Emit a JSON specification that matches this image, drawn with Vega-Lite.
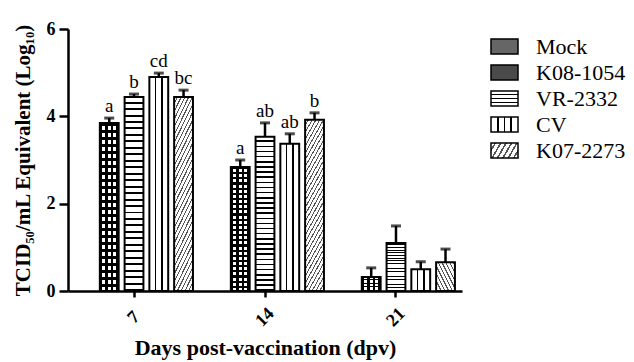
{
  "$schema": "https://vega.github.io/schema/vega-lite/v6.json",
  "autosize": "none",
  "width": 394,
  "height": 262,
  "padding": {"left": 68, "top": 29, "right": 172, "bottom": 71},
  "background": "white",
  "config": {
    "view": {"stroke": null},
    "font": "Liberation Serif",
    "text": {"font": "Liberation Serif"},
    "axis": {
      "domainColor": "black", "domainWidth": 2.5, "tickColor": "black", "tickWidth": 2.5,
      "labelColor": "black", "titleColor": "black", "labelFont": "Liberation Serif", "titleFont": "Liberation Serif",
      "labelFontWeight": "bold", "titleFontWeight": "bold", "grid": false
    },
    "legend": {"labelFont": "Liberation Serif", "labelColor": "black"}
  },
  "data": {"values": [
    {"day": "7", "group": "K08-1054", "value": 3.85, "upper": 3.96, "letter": "a"},
    {"day": "7", "group": "VR-2332", "value": 4.44, "upper": 4.51, "letter": "b"},
    {"day": "7", "group": "CV", "value": 4.9, "upper": 4.99, "letter": "cd"},
    {"day": "7", "group": "K07-2273", "value": 4.44, "upper": 4.6, "letter": "bc"},
    {"day": "14", "group": "K08-1054", "value": 2.84, "upper": 3.0, "letter": "a"},
    {"day": "14", "group": "VR-2332", "value": 3.53, "upper": 3.85, "letter": "ab"},
    {"day": "14", "group": "CV", "value": 3.37, "upper": 3.6, "letter": "ab"},
    {"day": "14", "group": "K07-2273", "value": 3.92, "upper": 4.08, "letter": "b"},
    {"day": "21", "group": "K08-1054", "value": 0.32, "upper": 0.53, "letter": ""},
    {"day": "21", "group": "VR-2332", "value": 1.1, "upper": 1.49, "letter": ""},
    {"day": "21", "group": "CV", "value": 0.5, "upper": 0.67, "letter": ""},
    {"day": "21", "group": "K07-2273", "value": 0.66, "upper": 0.96, "letter": ""}
  ]},
  "encoding": {
    "x": {
      "field": "day", "type": "nominal", "sort": ["7", "14", "21"],
      "scale": {"paddingInner": 0.1, "paddingOuter": 0.054},
      "axis": {
        "title": "Days post-vaccination (dpv)", "titleFontSize": 22, "titlePadding": 8,
        "labelFontSize": 18, "labelAngle": -45, "labelAlign": "center", "labelBaseline": "middle",
        "labelPadding": 20, "tickSize": 6
      }
    },
    "xOffset": {
      "field": "group", "type": "nominal",
      "scale": {"domain": ["Mock", "K08-1054", "VR-2332", "CV", "K07-2273"], "paddingInner": 0.24, "paddingOuter": 0}
    },
    "y": {
      "field": "value", "type": "quantitative",
      "scale": {"domain": [0, 6], "nice": false},
      "axis": {
        "title": "TCID₅₀/mL Equivalent (Log₁₀)", "titleFontSize": 21, "titlePadding": 13,
        "values": [0, 2, 4, 6], "labelFontSize": 18, "tickSize": 9, "labelPadding": 4
      }
    }
  },
  "layer": [
    {
      "mark": {"type": "bar", "opacity": 0, "stroke": "black", "strokeWidth": 1.5},
      "encoding": {
        "color": {
          "field": "group", "type": "nominal",
          "scale": {
            "domain": ["Mock", "K08-1054", "VR-2332", "CV", "K07-2273"],
            "range": [
              "#666666",
              "#4a4a4a",
              {"expr": "{gradient: 'linear', x1: 0, y1: 0, x2: 0, y2: 1, stops: [{offset: 0, color: 'white'}, {offset: 0.2, color: 'white'}, {offset: 0.2, color: 'black'}, {offset: 0.3, color: 'black'}, {offset: 0.3, color: 'white'}, {offset: 0.45, color: 'white'}, {offset: 0.45, color: 'black'}, {offset: 0.55, color: 'black'}, {offset: 0.55, color: 'white'}, {offset: 0.7, color: 'white'}, {offset: 0.7, color: 'black'}, {offset: 0.8, color: 'black'}, {offset: 0.8, color: 'white'}, {offset: 1, color: 'white'}]}"},
              {"expr": "{gradient: 'linear', x1: 0, y1: 0, x2: 1, y2: 0, stops: [{offset: 0, color: 'white'}, {offset: 0.22, color: 'white'}, {offset: 0.22, color: 'black'}, {offset: 0.28, color: 'black'}, {offset: 0.28, color: 'white'}, {offset: 0.47, color: 'white'}, {offset: 0.47, color: 'black'}, {offset: 0.53, color: 'black'}, {offset: 0.53, color: 'white'}, {offset: 0.72, color: 'white'}, {offset: 0.72, color: 'black'}, {offset: 0.78, color: 'black'}, {offset: 0.78, color: 'white'}, {offset: 1, color: 'white'}]}"},
              {"expr": "{gradient: 'linear', x1: 0, y1: 0, x2: 1.2, y2: 0.4, stops: [{offset: 0, color: 'white'}, {offset: 0.1, color: 'white'}, {offset: 0.1, color: '#555555'}, {offset: 0.15, color: '#555555'}, {offset: 0.15, color: 'white'}, {offset: 0.25, color: 'white'}, {offset: 0.25, color: '#555555'}, {offset: 0.3, color: '#555555'}, {offset: 0.3, color: 'white'}, {offset: 0.4, color: 'white'}, {offset: 0.4, color: '#555555'}, {offset: 0.45, color: '#555555'}, {offset: 0.45, color: 'white'}, {offset: 0.55, color: 'white'}, {offset: 0.55, color: '#555555'}, {offset: 0.6, color: '#555555'}, {offset: 0.6, color: 'white'}, {offset: 0.7, color: 'white'}, {offset: 0.7, color: '#555555'}, {offset: 0.75, color: '#555555'}, {offset: 0.75, color: 'white'}, {offset: 0.85, color: 'white'}, {offset: 0.85, color: '#555555'}, {offset: 0.9, color: '#555555'}, {offset: 0.9, color: 'white'}, {offset: 1, color: 'white'}]}"}
            ]
          },
          "legend": {
            "title": null, "orient": "none", "legendX": 422, "legendY": 3,
            "symbolType": "M-1,-0.56H1V0.56H-1Z", "symbolSize": 729, "symbolStrokeColor": "black",
            "symbolStrokeWidth": 1.5, "symbolOpacity": 1, "labelFont": "Liberation Serif", "labelFontSize": 22,
            "labelOffset": 17, "rowPadding": 0
          }
        }
      }
    },
    {
      "transform": [{"filter": "datum.group === 'K08-1054'"}],
      "mark": {"type": "bar",
        "fill": {"gradient": "linear", "x1": 0, "y1": 0, "x2": 1, "y2": 0, "stops": [
          {"offset": 0, "color": "black"}, {"offset": 0.12, "color": "black"}, {"offset": 0.12, "color": "white"}, {"offset": 0.3, "color": "white"},
          {"offset": 0.3, "color": "black"}, {"offset": 0.42, "color": "black"}, {"offset": 0.42, "color": "white"}, {"offset": 0.58, "color": "white"},
          {"offset": 0.58, "color": "black"}, {"offset": 0.7, "color": "black"}, {"offset": 0.7, "color": "white"}, {"offset": 0.88, "color": "white"},
          {"offset": 0.88, "color": "black"}, {"offset": 1, "color": "black"}
        ]}
      }
    },
    {
      "transform": [{"filter": "datum.group === 'K08-1054'"}],
      "mark": {"type": "bar", "stroke": "black", "strokeWidth": 2,
        "fill": {"gradient": "linear", "x1": 0, "y1": 0, "x2": 0, "y2": 1, "stops": [
          {"offset": 0, "color": "black"}, {"offset": 0.016667, "color": "black"}, {"offset": 0.016667, "color": "rgba(0,0,0,0)"}, {"offset": 0.041667, "color": "rgba(0,0,0,0)"},
          {"offset": 0.041667, "color": "black"}, {"offset": 0.058333, "color": "black"}, {"offset": 0.058333, "color": "rgba(0,0,0,0)"}, {"offset": 0.083333, "color": "rgba(0,0,0,0)"},
          {"offset": 0.083333, "color": "black"}, {"offset": 0.1, "color": "black"}, {"offset": 0.1, "color": "rgba(0,0,0,0)"}, {"offset": 0.125, "color": "rgba(0,0,0,0)"},
          {"offset": 0.125, "color": "black"}, {"offset": 0.141667, "color": "black"}, {"offset": 0.141667, "color": "rgba(0,0,0,0)"}, {"offset": 0.166667, "color": "rgba(0,0,0,0)"},
          {"offset": 0.166667, "color": "black"}, {"offset": 0.183333, "color": "black"}, {"offset": 0.183333, "color": "rgba(0,0,0,0)"}, {"offset": 0.208333, "color": "rgba(0,0,0,0)"},
          {"offset": 0.208333, "color": "black"}, {"offset": 0.225, "color": "black"}, {"offset": 0.225, "color": "rgba(0,0,0,0)"}, {"offset": 0.25, "color": "rgba(0,0,0,0)"},
          {"offset": 0.25, "color": "black"}, {"offset": 0.266667, "color": "black"}, {"offset": 0.266667, "color": "rgba(0,0,0,0)"}, {"offset": 0.291667, "color": "rgba(0,0,0,0)"},
          {"offset": 0.291667, "color": "black"}, {"offset": 0.308333, "color": "black"}, {"offset": 0.308333, "color": "rgba(0,0,0,0)"}, {"offset": 0.333333, "color": "rgba(0,0,0,0)"},
          {"offset": 0.333333, "color": "black"}, {"offset": 0.35, "color": "black"}, {"offset": 0.35, "color": "rgba(0,0,0,0)"}, {"offset": 0.375, "color": "rgba(0,0,0,0)"},
          {"offset": 0.375, "color": "black"}, {"offset": 0.391667, "color": "black"}, {"offset": 0.391667, "color": "rgba(0,0,0,0)"}, {"offset": 0.416667, "color": "rgba(0,0,0,0)"},
          {"offset": 0.416667, "color": "black"}, {"offset": 0.433333, "color": "black"}, {"offset": 0.433333, "color": "rgba(0,0,0,0)"}, {"offset": 0.458333, "color": "rgba(0,0,0,0)"},
          {"offset": 0.458333, "color": "black"}, {"offset": 0.475, "color": "black"}, {"offset": 0.475, "color": "rgba(0,0,0,0)"}, {"offset": 0.5, "color": "rgba(0,0,0,0)"},
          {"offset": 0.5, "color": "black"}, {"offset": 0.516667, "color": "black"}, {"offset": 0.516667, "color": "rgba(0,0,0,0)"}, {"offset": 0.541667, "color": "rgba(0,0,0,0)"},
          {"offset": 0.541667, "color": "black"}, {"offset": 0.558333, "color": "black"}, {"offset": 0.558333, "color": "rgba(0,0,0,0)"}, {"offset": 0.583333, "color": "rgba(0,0,0,0)"},
          {"offset": 0.583333, "color": "black"}, {"offset": 0.6, "color": "black"}, {"offset": 0.6, "color": "rgba(0,0,0,0)"}, {"offset": 0.625, "color": "rgba(0,0,0,0)"},
          {"offset": 0.625, "color": "black"}, {"offset": 0.641667, "color": "black"}, {"offset": 0.641667, "color": "rgba(0,0,0,0)"}, {"offset": 0.666667, "color": "rgba(0,0,0,0)"},
          {"offset": 0.666667, "color": "black"}, {"offset": 0.683333, "color": "black"}, {"offset": 0.683333, "color": "rgba(0,0,0,0)"}, {"offset": 0.708333, "color": "rgba(0,0,0,0)"},
          {"offset": 0.708333, "color": "black"}, {"offset": 0.725, "color": "black"}, {"offset": 0.725, "color": "rgba(0,0,0,0)"}, {"offset": 0.75, "color": "rgba(0,0,0,0)"},
          {"offset": 0.75, "color": "black"}, {"offset": 0.766667, "color": "black"}, {"offset": 0.766667, "color": "rgba(0,0,0,0)"}, {"offset": 0.791667, "color": "rgba(0,0,0,0)"},
          {"offset": 0.791667, "color": "black"}, {"offset": 0.808333, "color": "black"}, {"offset": 0.808333, "color": "rgba(0,0,0,0)"}, {"offset": 0.833333, "color": "rgba(0,0,0,0)"},
          {"offset": 0.833333, "color": "black"}, {"offset": 0.85, "color": "black"}, {"offset": 0.85, "color": "rgba(0,0,0,0)"}, {"offset": 0.875, "color": "rgba(0,0,0,0)"},
          {"offset": 0.875, "color": "black"}, {"offset": 0.891667, "color": "black"}, {"offset": 0.891667, "color": "rgba(0,0,0,0)"}, {"offset": 0.916667, "color": "rgba(0,0,0,0)"},
          {"offset": 0.916667, "color": "black"}, {"offset": 0.933333, "color": "black"}, {"offset": 0.933333, "color": "rgba(0,0,0,0)"}, {"offset": 0.958333, "color": "rgba(0,0,0,0)"},
          {"offset": 0.958333, "color": "black"}, {"offset": 0.975, "color": "black"}, {"offset": 0.975, "color": "rgba(0,0,0,0)"}, {"offset": 1, "color": "rgba(0,0,0,0)"}
        ]}
      }
    },
    {
      "transform": [{"filter": "datum.group === 'VR-2332'"}],
      "mark": {"type": "bar", "stroke": "black", "strokeWidth": 2,
        "fill": {"gradient": "linear", "x1": 0, "y1": 0, "x2": 0, "y2": 1, "stops": [
          {"offset": 0, "color": "white"}, {"offset": 0.02333, "color": "white"}, {"offset": 0.02333, "color": "black"}, {"offset": 0.03333, "color": "black"},
          {"offset": 0.03333, "color": "white"}, {"offset": 0.05667, "color": "white"}, {"offset": 0.05667, "color": "black"}, {"offset": 0.06667, "color": "black"},
          {"offset": 0.06667, "color": "white"}, {"offset": 0.09, "color": "white"}, {"offset": 0.09, "color": "black"}, {"offset": 0.1, "color": "black"},
          {"offset": 0.1, "color": "white"}, {"offset": 0.12333, "color": "white"}, {"offset": 0.12333, "color": "black"}, {"offset": 0.13333, "color": "black"},
          {"offset": 0.13333, "color": "white"}, {"offset": 0.15667, "color": "white"}, {"offset": 0.15667, "color": "black"}, {"offset": 0.16667, "color": "black"},
          {"offset": 0.16667, "color": "white"}, {"offset": 0.19, "color": "white"}, {"offset": 0.19, "color": "black"}, {"offset": 0.2, "color": "black"},
          {"offset": 0.2, "color": "white"}, {"offset": 0.22333, "color": "white"}, {"offset": 0.22333, "color": "black"}, {"offset": 0.23333, "color": "black"},
          {"offset": 0.23333, "color": "white"}, {"offset": 0.25667, "color": "white"}, {"offset": 0.25667, "color": "black"}, {"offset": 0.26667, "color": "black"},
          {"offset": 0.26667, "color": "white"}, {"offset": 0.29, "color": "white"}, {"offset": 0.29, "color": "black"}, {"offset": 0.3, "color": "black"},
          {"offset": 0.3, "color": "white"}, {"offset": 0.32333, "color": "white"}, {"offset": 0.32333, "color": "black"}, {"offset": 0.33333, "color": "black"},
          {"offset": 0.33333, "color": "white"}, {"offset": 0.35667, "color": "white"}, {"offset": 0.35667, "color": "black"}, {"offset": 0.36667, "color": "black"},
          {"offset": 0.36667, "color": "white"}, {"offset": 0.39, "color": "white"}, {"offset": 0.39, "color": "black"}, {"offset": 0.4, "color": "black"},
          {"offset": 0.4, "color": "white"}, {"offset": 0.42333, "color": "white"}, {"offset": 0.42333, "color": "black"}, {"offset": 0.43333, "color": "black"},
          {"offset": 0.43333, "color": "white"}, {"offset": 0.45667, "color": "white"}, {"offset": 0.45667, "color": "black"}, {"offset": 0.46667, "color": "black"},
          {"offset": 0.46667, "color": "white"}, {"offset": 0.49, "color": "white"}, {"offset": 0.49, "color": "black"}, {"offset": 0.5, "color": "black"},
          {"offset": 0.5, "color": "white"}, {"offset": 0.52333, "color": "white"}, {"offset": 0.52333, "color": "black"}, {"offset": 0.53333, "color": "black"},
          {"offset": 0.53333, "color": "white"}, {"offset": 0.55667, "color": "white"}, {"offset": 0.55667, "color": "black"}, {"offset": 0.56667, "color": "black"},
          {"offset": 0.56667, "color": "white"}, {"offset": 0.59, "color": "white"}, {"offset": 0.59, "color": "black"}, {"offset": 0.6, "color": "black"},
          {"offset": 0.6, "color": "white"}, {"offset": 0.62333, "color": "white"}, {"offset": 0.62333, "color": "black"}, {"offset": 0.63333, "color": "black"},
          {"offset": 0.63333, "color": "white"}, {"offset": 0.65667, "color": "white"}, {"offset": 0.65667, "color": "black"}, {"offset": 0.66667, "color": "black"},
          {"offset": 0.66667, "color": "white"}, {"offset": 0.69, "color": "white"}, {"offset": 0.69, "color": "black"}, {"offset": 0.7, "color": "black"},
          {"offset": 0.7, "color": "white"}, {"offset": 0.72333, "color": "white"}, {"offset": 0.72333, "color": "black"}, {"offset": 0.73333, "color": "black"},
          {"offset": 0.73333, "color": "white"}, {"offset": 0.75667, "color": "white"}, {"offset": 0.75667, "color": "black"}, {"offset": 0.76667, "color": "black"},
          {"offset": 0.76667, "color": "white"}, {"offset": 0.79, "color": "white"}, {"offset": 0.79, "color": "black"}, {"offset": 0.8, "color": "black"},
          {"offset": 0.8, "color": "white"}, {"offset": 0.82333, "color": "white"}, {"offset": 0.82333, "color": "black"}, {"offset": 0.83333, "color": "black"},
          {"offset": 0.83333, "color": "white"}, {"offset": 0.85667, "color": "white"}, {"offset": 0.85667, "color": "black"}, {"offset": 0.86667, "color": "black"},
          {"offset": 0.86667, "color": "white"}, {"offset": 0.89, "color": "white"}, {"offset": 0.89, "color": "black"}, {"offset": 0.9, "color": "black"},
          {"offset": 0.9, "color": "white"}, {"offset": 0.92333, "color": "white"}, {"offset": 0.92333, "color": "black"}, {"offset": 0.93333, "color": "black"},
          {"offset": 0.93333, "color": "white"}, {"offset": 0.95667, "color": "white"}, {"offset": 0.95667, "color": "black"}, {"offset": 0.96667, "color": "black"},
          {"offset": 0.96667, "color": "white"}, {"offset": 0.99, "color": "white"}, {"offset": 0.99, "color": "black"}, {"offset": 1, "color": "black"}
        ]}
      }
    },
    {
      "transform": [{"filter": "datum.group === 'CV'"}],
      "mark": {"type": "bar", "stroke": "black", "strokeWidth": 2,
        "fill": {"gradient": "linear", "x1": 0, "y1": 0, "x2": 1, "y2": 0, "stops": [
          {"offset": 0, "color": "white"}, {"offset": 0.3, "color": "white"}, {"offset": 0.3, "color": "black"}, {"offset": 0.37, "color": "black"},
          {"offset": 0.37, "color": "white"}, {"offset": 0.63, "color": "white"}, {"offset": 0.63, "color": "black"}, {"offset": 0.7, "color": "black"},
          {"offset": 0.7, "color": "white"}, {"offset": 1, "color": "white"}
        ]}
      }
    },
    {
      "transform": [{"filter": "datum.group === 'K07-2273'"}],
      "mark": {"type": "bar", "stroke": "black", "strokeWidth": 2,
        "fill": {"gradient": "linear", "x1": 0, "y1": 0, "x2": 0.23, "y2": 1.154, "stops": [
          {"offset": 0, "color": "white"}, {"offset": 0.02333, "color": "white"}, {"offset": 0.02333, "color": "#555555"}, {"offset": 0.03333, "color": "#555555"},
          {"offset": 0.03333, "color": "white"}, {"offset": 0.05667, "color": "white"}, {"offset": 0.05667, "color": "#555555"}, {"offset": 0.06667, "color": "#555555"},
          {"offset": 0.06667, "color": "white"}, {"offset": 0.09, "color": "white"}, {"offset": 0.09, "color": "#555555"}, {"offset": 0.1, "color": "#555555"},
          {"offset": 0.1, "color": "white"}, {"offset": 0.12333, "color": "white"}, {"offset": 0.12333, "color": "#555555"}, {"offset": 0.13333, "color": "#555555"},
          {"offset": 0.13333, "color": "white"}, {"offset": 0.15667, "color": "white"}, {"offset": 0.15667, "color": "#555555"}, {"offset": 0.16667, "color": "#555555"},
          {"offset": 0.16667, "color": "white"}, {"offset": 0.19, "color": "white"}, {"offset": 0.19, "color": "#555555"}, {"offset": 0.2, "color": "#555555"},
          {"offset": 0.2, "color": "white"}, {"offset": 0.22333, "color": "white"}, {"offset": 0.22333, "color": "#555555"}, {"offset": 0.23333, "color": "#555555"},
          {"offset": 0.23333, "color": "white"}, {"offset": 0.25667, "color": "white"}, {"offset": 0.25667, "color": "#555555"}, {"offset": 0.26667, "color": "#555555"},
          {"offset": 0.26667, "color": "white"}, {"offset": 0.29, "color": "white"}, {"offset": 0.29, "color": "#555555"}, {"offset": 0.3, "color": "#555555"},
          {"offset": 0.3, "color": "white"}, {"offset": 0.32333, "color": "white"}, {"offset": 0.32333, "color": "#555555"}, {"offset": 0.33333, "color": "#555555"},
          {"offset": 0.33333, "color": "white"}, {"offset": 0.35667, "color": "white"}, {"offset": 0.35667, "color": "#555555"}, {"offset": 0.36667, "color": "#555555"},
          {"offset": 0.36667, "color": "white"}, {"offset": 0.39, "color": "white"}, {"offset": 0.39, "color": "#555555"}, {"offset": 0.4, "color": "#555555"},
          {"offset": 0.4, "color": "white"}, {"offset": 0.42333, "color": "white"}, {"offset": 0.42333, "color": "#555555"}, {"offset": 0.43333, "color": "#555555"},
          {"offset": 0.43333, "color": "white"}, {"offset": 0.45667, "color": "white"}, {"offset": 0.45667, "color": "#555555"}, {"offset": 0.46667, "color": "#555555"},
          {"offset": 0.46667, "color": "white"}, {"offset": 0.49, "color": "white"}, {"offset": 0.49, "color": "#555555"}, {"offset": 0.5, "color": "#555555"},
          {"offset": 0.5, "color": "white"}, {"offset": 0.52333, "color": "white"}, {"offset": 0.52333, "color": "#555555"}, {"offset": 0.53333, "color": "#555555"},
          {"offset": 0.53333, "color": "white"}, {"offset": 0.55667, "color": "white"}, {"offset": 0.55667, "color": "#555555"}, {"offset": 0.56667, "color": "#555555"},
          {"offset": 0.56667, "color": "white"}, {"offset": 0.59, "color": "white"}, {"offset": 0.59, "color": "#555555"}, {"offset": 0.6, "color": "#555555"},
          {"offset": 0.6, "color": "white"}, {"offset": 0.62333, "color": "white"}, {"offset": 0.62333, "color": "#555555"}, {"offset": 0.63333, "color": "#555555"},
          {"offset": 0.63333, "color": "white"}, {"offset": 0.65667, "color": "white"}, {"offset": 0.65667, "color": "#555555"}, {"offset": 0.66667, "color": "#555555"},
          {"offset": 0.66667, "color": "white"}, {"offset": 0.69, "color": "white"}, {"offset": 0.69, "color": "#555555"}, {"offset": 0.7, "color": "#555555"},
          {"offset": 0.7, "color": "white"}, {"offset": 0.72333, "color": "white"}, {"offset": 0.72333, "color": "#555555"}, {"offset": 0.73333, "color": "#555555"},
          {"offset": 0.73333, "color": "white"}, {"offset": 0.75667, "color": "white"}, {"offset": 0.75667, "color": "#555555"}, {"offset": 0.76667, "color": "#555555"},
          {"offset": 0.76667, "color": "white"}, {"offset": 0.79, "color": "white"}, {"offset": 0.79, "color": "#555555"}, {"offset": 0.8, "color": "#555555"},
          {"offset": 0.8, "color": "white"}, {"offset": 0.82333, "color": "white"}, {"offset": 0.82333, "color": "#555555"}, {"offset": 0.83333, "color": "#555555"},
          {"offset": 0.83333, "color": "white"}, {"offset": 0.85667, "color": "white"}, {"offset": 0.85667, "color": "#555555"}, {"offset": 0.86667, "color": "#555555"},
          {"offset": 0.86667, "color": "white"}, {"offset": 0.89, "color": "white"}, {"offset": 0.89, "color": "#555555"}, {"offset": 0.9, "color": "#555555"},
          {"offset": 0.9, "color": "white"}, {"offset": 0.92333, "color": "white"}, {"offset": 0.92333, "color": "#555555"}, {"offset": 0.93333, "color": "#555555"},
          {"offset": 0.93333, "color": "white"}, {"offset": 0.95667, "color": "white"}, {"offset": 0.95667, "color": "#555555"}, {"offset": 0.96667, "color": "#555555"},
          {"offset": 0.96667, "color": "white"}, {"offset": 1, "color": "white"}
        ]}
      }
    },
    {
      "mark": {"type": "rule", "color": "black", "strokeWidth": 2.5},
      "encoding": {"y": {"field": "value", "type": "quantitative"}, "y2": {"field": "upper"}}
    },
    {
      "mark": {"type": "tick", "color": "black", "size": 10, "thickness": 3},
      "encoding": {"y": {"field": "upper", "type": "quantitative"}}
    },
    {
      "mark": {"type": "text", "color": "black", "fontSize": 19, "baseline": "bottom", "dy": -2, "font": "Liberation Serif"},
      "encoding": {"y": {"field": "upper", "type": "quantitative"}, "text": {"field": "letter"}}
    }
  ]
}
